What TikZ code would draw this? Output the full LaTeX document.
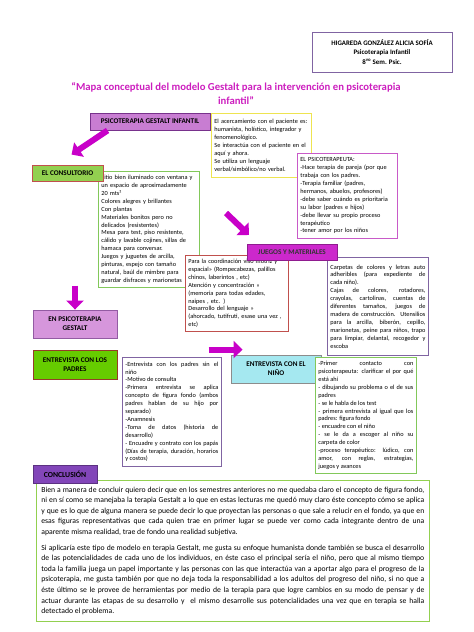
\documentclass[tikz,border=0pt]{standalone}
\usepackage{fontspec}
\setmainfont{Carlito}
\usetikzlibrary{arrows.meta,positioning,shadows,calc}
\definecolor{titlepink}{RGB}{204,30,190}
\definecolor{arrowpink}{RGB}{200,0,200}
\definecolor{orchidhead}{RGB}{200,125,210}
\definecolor{orchiddraw}{RGB}{120,50,140}
\definecolor{notegold}{RGB}{238,228,80}
\definecolor{consulgreen}{RGB}{146,208,80}
\definecolor{brickred}{RGB}{192,80,77}
\definecolor{leafgreen}{RGB}{130,200,90}
\definecolor{therapink}{RGB}{200,90,200}
\definecolor{juegospink}{RGB}{204,40,204}
\definecolor{slatepurple}{RGB}{128,100,162}
\definecolor{lightorchid}{RGB}{214,150,220}
\definecolor{padresgreen}{RGB}{102,204,0}
\definecolor{padresdraw}{RGB}{150,60,40}
\definecolor{ninocyan}{RGB}{165,232,240}
\definecolor{concpurple}{RGB}{130,70,185}

\begin{document}
\begin{tikzpicture}[
  x=1pt, y=-1pt,
  head/.style={draw, line width=0.9pt, align=center, inner sep=1pt,
               font=\fontsize{7.2}{9.3}\selectfont\bfseries,
               drop shadow={shadow xshift=1.3pt, shadow yshift=-1.3pt, fill=black!30}},
  note/.style={draw, line width=0.8pt, fill=white, anchor=north west,
               inner xsep=3pt, inner ysep=2pt,
               font=\fontsize{6.3}{7.9}\selectfont,
               drop shadow={shadow xshift=1pt, shadow yshift=-1pt, fill=black!20}},
  bigarrow/.style={draw=arrowpink, line width=6pt,
                   -{Triangle[length=9pt, width=17pt]}}
]
\useasboundingbox (0,0) rectangle (474,632);

% cabecera
\node[draw=slatepurple, line width=0.7pt, minimum width=140pt, minimum height=40pt,
      align=center, font=\fontsize{6.9}{9.3}\selectfont\bfseries] (autor) at (382,52)
  {HIGAREDA GONZÁLEZ ALICIA SOFÍA\\Psicoterapia Infantil\\8\textsuperscript{vo} Sem. Psic.};

\node[text=titlepink, align=center, font=\fontsize{10.7}{14}\selectfont\bfseries] (titulo) at (236,94)
  {“Mapa conceptual del modelo Gestalt para la intervención en psicoterapia\\infantil”};

% primer nivel
\node[note, draw=notegold, text width=94pt, minimum height=64pt] (acerca) at (211,113) {%
  El acercamiento con el paciente es:\\
  humanista, holístico, integrador y\\
  fenomenológico.\\
  Se interactúa con el paciente en el\\
  aquí y ahora.\\
  Se utiliza un lenguaje\\
  verbal/simbólico/no verbal.};

\node[head, fill=orchidhead, draw=orchiddraw, minimum width=120pt, minimum height=17pt] (gestalt) at (150,121.5)
  {PSICOTERAPIA GESTALT INFANTIL};

\node[note, draw=therapink, text width=94pt, minimum height=85pt] (terapeuta) at (297,153) {%
  EL PSICOTERAPEUTA:\\
  -Hace terapia de pareja (por que\\
  trabaja con los padres.\\
  -Terapia familiar (padres,\\
  hermanos, abuelos, profesores)\\
  -debe saber cuándo es prioritaria\\
  su labor (padres e hijos)\\
  -debe llevar su propio proceso\\
  terapéutico\\
  -tener amor por los niños};

\node[note, draw=leafgreen, text width=95pt, minimum height=116pt] (sitio) at (98,171) {%
  Sitio bien iluminado con ventana y\\
  un espacio de aproximadamente\\
  20 mts²\\
  Colores alegres y brillantes\\
  Con plantas\\
  Materiales bonitos pero no\\
  delicados (resistentes)\\
  Mesa para test, piso resistente,\\
  cálido y lavable cojines, sillas de\\
  hamaca para conversar.\\
  Juegos y juguetes de arcilla,\\
  pinturas, espejo con tamaño\\
  natural, baúl de mimbre para\\
  guardar disfraces y marionetas};

\node[head, fill=consulgreen, draw=brickred, minimum width=71pt, minimum height=16pt] (consultorio) at (67.5,173)
  {EL CONSULTORIO};

% juegos y materiales
\node[note, draw=brickred, text width=97pt, minimum height=76pt] (coordina) at (185,255) {%
  Para la coordinación viso motriz y\\
  espacial» (Rompecabezas, palillos\\
  chinos, laberintos , etc)\\
  Atención y concentración »\\
  (memoria para todas edades,\\
  naipes , etc. )\\
  Desarrollo del lenguaje »\\
  (ahorcado, tutifruti, esase una vez ,\\
  etc)};

\node[note, draw=slatepurple, text width=95pt, minimum height=98pt, align=justify] (carpetas) at (327,257) {%
  Carpetas de colores y letras auto\linebreak
  adheribles (para expediente de\linebreak
  cada niño).\\
  Cajas de colores, rotadores,\linebreak
  crayolas, cartolinas, cuentas de\linebreak
  diferentes tamaños, juegos de\linebreak
  madera de construcción. Utensilios\linebreak
  para la arcilla, biberón, cepillo,\linebreak
  marionetas, peine para niños, trapo\linebreak
  para limpiar, delantal, recogedor y\linebreak
  escoba};

\node[head, fill=juegospink, draw=juegospink!70!black, text=black!80, minimum width=90pt, minimum height=16pt] (juegos) at (292,252)
  {JUEGOS Y MATERIALES};

% entrevistas
\node[head, fill=lightorchid, draw=orchiddraw!80, minimum width=84pt, minimum height=28pt] (enpsico) at (75,324)
  {EN PSICOTERAPIA\\GESTALT};

\node[head, fill=padresgreen, draw=padresdraw, minimum width=84pt, minimum height=29pt] (padres) at (75,364.5)
  {ENTREVISTA CON LOS\\PADRES};

\node[note, draw=slatepurple, text width=93pt, minimum height=109pt, align=justify] (motivo) at (122,357) {%
  -Entrevista con los padres sin el\linebreak
  niño\\
  -Motivo de consulta\\
  -Primera entrevista se aplica\linebreak
  concepto de figura fondo (ambos\linebreak
  padres hablan de su hijo por\linebreak
  separado)\\
  -Anamnesis\\
  -Toma de datos (historia de\linebreak
  desarrollo)\\
  - Encuadre y contrato con los papás\linebreak
  (Días de terapia, duración, horarios\linebreak
  y costos)};

\node[head, fill=ninocyan, draw=black!45, minimum width=90pt, minimum height=28pt] (nino) at (276,369)
  {ENTREVISTA CON EL\\NIÑO};

\node[note, draw=leafgreen, text width=95pt, minimum height=116pt, align=justify] (contacto) at (315,357) {%
  -Primer contacto con\linebreak
  psicoterapeuta: clarificar el por qué\linebreak
  está ahí\\
  - dibujando su problema o el de sus\linebreak
  padres\\
  - se le habla de los test\\
  - primera entrevista al igual que los\linebreak
  padres: figura fondo\\
  - encuadre con el niño\\
  - se le da a escoger al niño su\linebreak
  carpeta de color\\
  -proceso terapéutico: lúdico, con\linebreak
  amor, con reglas, estrategias,\linebreak
  juegos y avances};

% conclusion
\node[note, draw=consulgreen, text width=383pt, minimum height=141pt, align=justify,
      inner xsep=5pt, inner ysep=4pt, font=\fontsize{7.7}{10.6}\selectfont] (texto) at (36,480) {%
  Bien a manera de concluir quiero decir que en los semestres anteriores no me quedaba claro el concepto de figura fondo,\linebreak
  ni en sí como se manejaba la terapia Gestalt a lo que en estas lecturas me quedó muy claro éste concepto cómo se aplica\linebreak
  y que es lo que de alguna manera se puede decir lo que proyectan las personas o que sale a relucir en el fondo, ya que en\linebreak
  esas figuras representativas que cada quien trae en primer lugar se puede ver como cada integrante dentro de una\linebreak
  aparente misma realidad, trae de fondo una realidad subjetiva.\par\vspace{5pt}
  Si aplicaría este tipo de modelo en terapia Gestalt, me gusta su enfoque humanista donde también se busca el desarrollo\linebreak
  de las potencialidades de cada uno de los individuos, en éste caso el principal sería el niño, pero que al mismo tiempo\linebreak
  toda la familia juega un papel importante y las personas con las que interactúa van a aportar algo para el progreso de la\linebreak
  psicoterapia, me gusta también por que no deja toda la responsabilidad a los adultos del progreso del niño, si no que a\linebreak
  éste último se le provee de herramientas por medio de la terapia para que logre cambios en su modo de pensar y de\linebreak
  actuar durante las etapas de su desarrollo y \ el mismo desarrolle sus potencialidades una vez que en terapia se halla\linebreak
  detectado el problema.};

\node[head, fill=concpurple, draw=concpurple!70!black, minimum width=64pt, minimum height=18pt,
      font=\fontsize{7.7}{9}\selectfont\bfseries] (conclusion) at (65,474)
  {CONCLUSIÓN};

% flechas
\coordinate (f2a) at (226,213);
\coordinate (f2b) at (249,235);
\draw[bigarrow] ([xshift=18pt]gestalt.south west) -- ([xshift=40pt,yshift=10pt]consultorio.north west);
\draw[bigarrow] (f2a) -- (f2b);
\draw[bigarrow] ([yshift=24pt]enpsico.north) -- (enpsico.north);
\draw[bigarrow] ([xshift=-22pt,yshift=5pt]nino.north west) -- ([xshift=12pt,yshift=5pt]nino.north west);

\end{tikzpicture}
\end{document}
